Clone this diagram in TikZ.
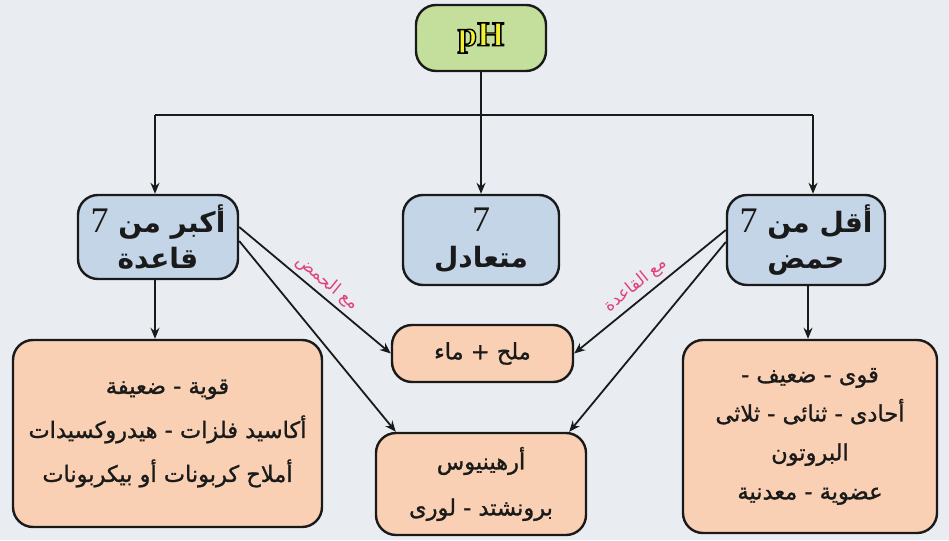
\documentclass[tikz,border=0pt]{standalone}
\usepackage{fontspec}
\usetikzlibrary{arrows.meta}
\TeXXeTstate=1
\setmainfont{Liberation Serif}
\newfontfamily\arabicfont[Script=Arabic]{DejaVu Sans}
\newfontfamily\arabicmed[Script=Arabic,FakeBold=1.2]{DejaVu Sans}
\definecolor{bgc}{HTML}{E9EDF2}
\definecolor{greenfill}{HTML}{C4DF9C}
\definecolor{bluefill}{HTML}{C3D5E6}
\definecolor{peachfill}{HTML}{F9D0B3}
\definecolor{pinklbl}{HTML}{E0407F}
\definecolor{inkc}{HTML}{1A1A1A}
\definecolor{phyellow}{HTML}{F2F030}
\tikzset{
  boxbase/.style={draw=inkc, line width=2.4pt, rounded corners=20pt, inner sep=0pt, align=center, text=inkc},
  greenbox/.style={boxbase, fill=greenfill},
  bluebox/.style={boxbase, fill=bluefill, font={\arabicfont\bfseries\fontsize{28}{36}\selectfont}},
  peachbox/.style={boxbase, fill=peachfill, font={\arabicmed\fontsize{22.5}{44}\selectfont}},
  conn/.style={draw=inkc, line width=1.8pt},
  arr/.style={conn, -{Stealth[length=11pt,width=9pt]}},
  lbl/.style={text=pinklbl, font={\arabicfont\fontsize{17}{19}\selectfont}, inner sep=1pt}
}
\newcommand{\sevenR}{{\rmfamily\mdseries\fontsize{36}{36}\selectfont 7}}
\newcommand{\outlined}[1]{\textcolor{phyellow}{\special{pdf:literal direct 2 Tr 1.4 w 0 0 0 RG}#1\special{pdf:literal direct 0 Tr}}}
\begin{document}
\begin{tikzpicture}[x=1pt,y=-1pt]
\useasboundingbox (0,0) rectangle (949,540);
\fill[bgc] (0,0) rectangle (949,540);

% top
\node[greenbox, minimum width=130pt, minimum height=66pt] (ph) at (481,38)
  {\fontsize{35}{37}\selectfont\bfseries\outlined{pH}};

% blue boxes
\node[bluebox, minimum width=160pt, minimum height=84pt] (base) at (158,237)
  {\beginR أكبر من \sevenR\endR\\\beginR قاعدة\endR};
\node[bluebox, minimum width=156pt, minimum height=90pt] (neut) at (481,240)
  {\sevenR\\\beginR متعادل\endR};
\node[bluebox, minimum width=158pt, minimum height=90pt] (acid) at (806,240)
  {\beginR أقل من \sevenR\endR\\\beginR حمض\endR};

% peach boxes
\node[peachbox, minimum width=309pt, minimum height=187pt] (baseinfo) at (167.5,433.5)
  {\beginR قوية - ضعيفة\endR\\\beginR أكاسيد فلزات - هيدروكسيدات\endR\\\beginR أملاح كربونات أو بيكربونات\endR};
\node[peachbox, minimum width=254pt, minimum height=193pt, font={\arabicmed\fontsize{22.5}{39}\selectfont}] (acidinfo) at (810,436.5)
  {\beginR قوى - ضعيف -\endR\\\beginR أحادى - ثنائى - ثلاثى\endR\\\beginR البروتون\endR\\\beginR عضوية - معدنية\endR};
\node[peachbox, minimum width=181pt, minimum height=57pt] (salt) at (482.5,353.5)
  {\beginR ملح + ماء\endR};
\node[peachbox, minimum width=210pt, minimum height=102pt, font={\arabicmed\fontsize{22.5}{46}\selectfont}] (theory) at (481,484)
  {\beginR أرهينيوس\endR\\\beginR برونشتد - لورى\endR};

% top connectors
\coordinate (jL) at (155,115);
\coordinate (jR) at (813,115);
\draw[conn] (jL) -- (jR);
\draw[arr] (ph.south) -- (neut.north);
\draw[arr] (jL) -- (jL |- base.north);
\draw[arr] (jR) -- (jR |- acid.north);

% down connectors
\draw[arr] (base.south -| 155,0) -- (baseinfo.north -| 155,0);
\draw[arr] (acid.south -| 808,0) -- (acidinfo.north -| 808,0);

% diagonals
\draw[arr] ([yshift=10pt]base.east) -- (salt.west);
\draw[arr] ([yshift=-4pt]base.east) -- ([xshift=21pt]theory.north west);
\draw[arr] ([yshift=10pt]acid.west) -- (salt.east);
\draw[arr] ([yshift=-2pt]acid.west) -- ([xshift=-18pt]theory.north east);

% labels
\node[lbl, rotate=-39] (lblacid) at (327,283) {\beginR مع الحمض\endR};
\node[lbl, rotate=39] (lblbase) at (636,285) {\beginR مع القاعدة\endR};
\end{tikzpicture}
\end{document}
